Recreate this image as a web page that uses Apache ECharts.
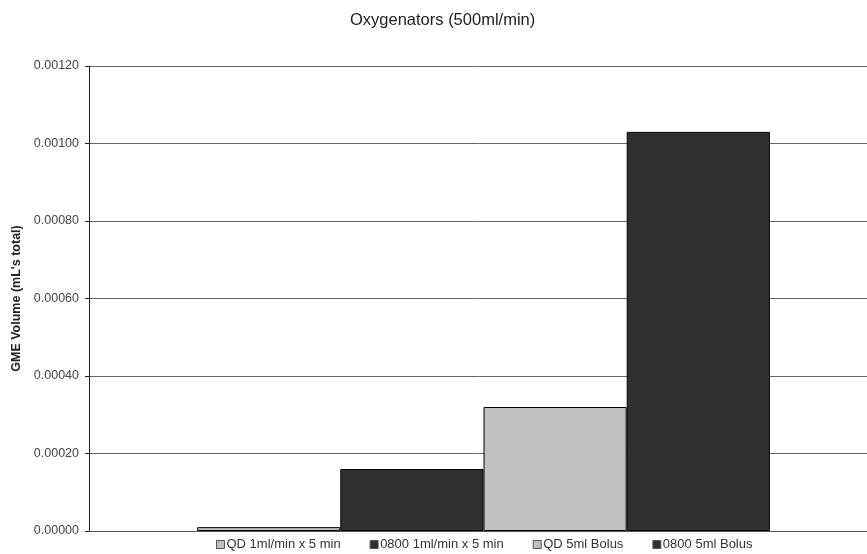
<!DOCTYPE html>
<html>
<head>
<meta charset="utf-8">
<script src="https://cdn.jsdelivr.net/npm/echarts@6/dist/echarts.min.js"></script>
<style>
  html, body { margin: 0; padding: 0; background: #fff; }
  #main { width: 867px; height: 554px; }
</style>
</head>
<body>
<div id="main"></div>
<script>
// data
const categories = ['Oxygenators'];
const seriesNames = ['QD 1ml/min x 5 min', '0800 1ml/min x 5 min', 'QD 5ml Bolus', '0800 5ml Bolus'];
const seriesValues = [0.00001, 0.00016, 0.00032, 0.00103];
const seriesColors = ['#c0c0c0', '#303030', '#c0c0c0', '#303030'];
const yTicks = [0, 0.0002, 0.0004, 0.0006, 0.0008, 0.001, 0.0012];

var myChart = echarts.init(document.getElementById('main'));

const font = 'Liberation Sans, Arial, sans-serif';

let series = seriesNames.map(function (name, i) {
  return {
    name: name,
    type: 'bar',
    data: [seriesValues[i]],
    barGap: '0%',
    barCategoryGap: '27.4%',
    itemStyle: { color: seriesColors[i], borderColor: '#000', borderWidth: 1 }
  };
});

myChart.setOption({
  backgroundColor: '#fff',
  animation: false,
  title: {
    text: 'Oxygenators (500ml/min)',
    left: 345,
    top: 7,
    textStyle: { fontFamily: font, fontSize: 16.5, fontWeight: 'normal', color: '#222' }
  },
  legend: {
    top: 538,
    left: 216,
    padding: 0,
    itemWidth: 8,
    itemHeight: 8,
    itemGap: 29,
    icon: 'rect',
    textStyle: { fontFamily: font, fontSize: 13, color: '#333', padding: [0, 0, 0, -3] },
    data: seriesNames.map(function (n, i) {
      return { name: n, itemStyle: { color: seriesColors[i], borderColor: '#555', borderWidth: 1 } };
    })
  },
  // plot runs a little past the right edge, like the original
  grid: { left: 89, width: 789, top: 66, height: 465, outerBoundsMode: 'none' },
  xAxis: {
    type: 'category',
    data: categories,
    axisLine: { lineStyle: { color: '#555', width: 1 } },
    axisTick: { show: false },
    axisLabel: { show: false }
  },
  yAxis: {
    type: 'value',
    min: yTicks[0],
    max: yTicks[yTicks.length - 1],
    interval: 0.0002,
    name: "GME Volume (mL's total)",
    nameLocation: 'middle',
    nameGap: 58,
    nameTextStyle: { fontFamily: font, fontSize: 12.5, fontWeight: 'bold', color: '#222' },
    axisLine: { show: true, lineStyle: { color: '#222', width: 1 } },
    axisTick: { show: true, length: 4, lineStyle: { color: '#222' } },
    axisLabel: {
      fontFamily: font, fontSize: 12.5, color: '#444', margin: 10,
      formatter: function (v) { return v.toFixed(5); }
    },
    splitLine: { lineStyle: { color: '#666', width: 1 } }
  },
  series: series
});
</script>
</body>
</html>
